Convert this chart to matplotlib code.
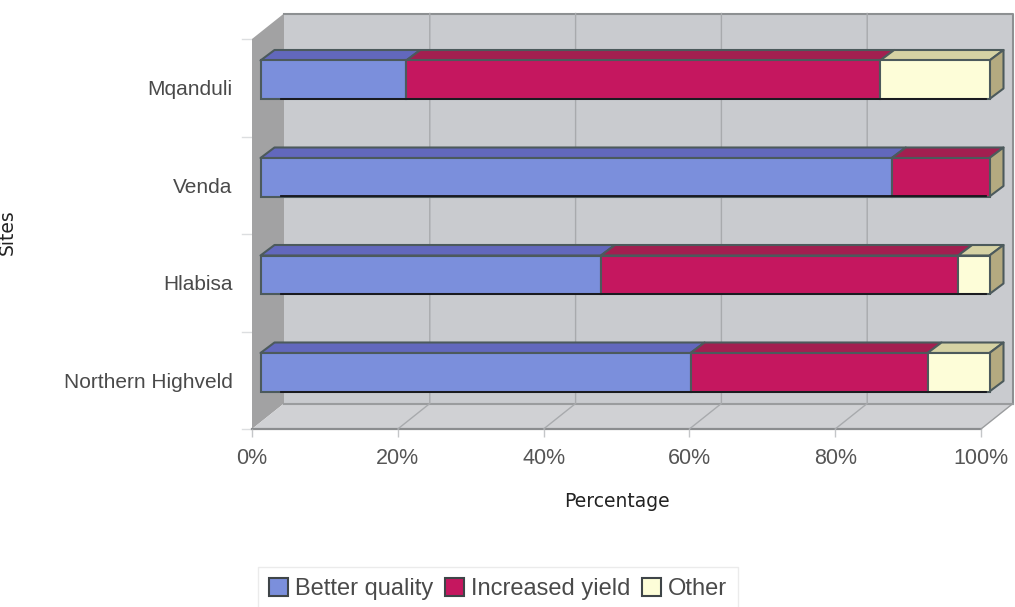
import matplotlib
matplotlib.use("Agg")
import matplotlib.pyplot as plt
from matplotlib.patches import Polygon, Patch

plt.rcParams['font.family'] = ['Liberation Sans', 'DejaVu Sans']

# Survey shares per site, listed bottom to top
sites = ["Northern Highveld", "Hlabisa", "Venda", "Mqanduli"]
better_quality = [59.0, 46.7, 86.6, 20.0]
increased_yield = [32.5, 49.0, 13.4, 65.0]
other = [8.5, 4.3, 0.0, 15.0]
series_names = ["Better quality", "Increased yield", "Other"]
x_ticks = [0, 20, 40, 60, 80, 100]

W, H = 1015, 607
fig = plt.figure(figsize=(W / 100, H / 100), dpi=100, facecolor="white")

# The axes is the front plane of the 3-D box
L, R, T, B = 252, 981, 39, 429
ax = fig.add_axes([L / W, 1 - B / H, (R - L) / W, (B - T) / H])
ax.set_xlim(0, 100)
ax.set_ylim(-0.5, 3.5)
for s in ax.spines.values():
    s.set_visible(False)
ax.patch.set_visible(False)

# Pixel depths expressed in data units
ux = (R - L) / 100
uy = (B - T) / 4
def dx(p): return p / ux
def dy(p): return p / uy

EDGE = "#4c5a5c"
GRID = "#a8aaad"
back_x, back_y = dx(32), dy(25.5)

def poly(points, fc, ec="none", lw=0.0, z=1):
    ax.add_patch(Polygon(points, closed=True, facecolor=fc, edgecolor=ec,
                         linewidth=lw, zorder=z, clip_on=False, joinstyle="round"))

y0, y1 = -0.5, 3.5
# Back wall, side wall and floor
poly([(back_x, y0 + back_y), (100 + back_x, y0 + back_y),
      (100 + back_x, y1 + back_y), (back_x, y1 + back_y)], "#c9cbcf", z=1)
poly([(0, y0), (back_x, y0 + back_y), (back_x, y1 + back_y), (0, y1)], "#a2a2a3", z=1.1)
poly([(0, y0), (100, y0), (100 + back_x, y0 + back_y), (back_x, y0 + back_y)], "#d0d1d4", z=1.1)

# Wall outlines
ax.plot([back_x, 100 + back_x, 100 + back_x], [y1 + back_y, y1 + back_y, y0 + back_y],
        color="#8d9092", lw=1.5, zorder=1.2, clip_on=False)
ax.plot([back_x, 100 + back_x], [y0 + back_y] * 2, color="#9a9c9e", lw=1.5, zorder=1.2, clip_on=False)
ax.plot([0, 100], [y0, y0], color="#8b8d8f", lw=1.6, zorder=1.2, clip_on=False)
ax.plot([100, 100 + back_x], [y0, y0 + back_y], color="#9a9c9e", lw=1.0, zorder=1.2, clip_on=False)

# Gridlines across the floor and up the back wall
for t in x_ticks[1:-1]:
    ax.plot([t, t + back_x, t + back_x], [y0, y0 + back_y, y1 + back_y],
            color=GRID, lw=1.0, zorder=1.3, clip_on=False)

# Stacked bars with their top and end faces
face_x, face_y = dx(8.5), dy(8)
bar_dx, bar_dy = dx(14), dy(10.5)
bar_h = 38.5 / uy
colors = ["#7b8fdc", "#c5175f", "#fdfdd8"]
tops = ["#6268bd", "#a31f50", "#d5d2a4"]
END = "#b4aa80"

for i, site in enumerate(sites):
    yc = i + face_y
    left = face_x
    vals = [better_quality[i], increased_yield[i], other[i]]
    for j, v in enumerate(vals):
        if v <= 0:
            continue
        ax.barh(yc, v, left=left, height=bar_h, color=colors[j], edgecolor=EDGE,
                linewidth=1.5, zorder=3, clip_on=False)
        yt = yc + bar_h / 2
        poly([(left, yt), (left + v, yt), (left + v + bar_dx, yt + bar_dy), (left + bar_dx, yt + bar_dy)],
             tops[j], EDGE, 1.5, z=2.5)
        left += v
    yb = yc - bar_h / 2
    yt = yc + bar_h / 2
    poly([(left, yb), (left + bar_dx, yb + bar_dy), (left + bar_dx, yt + bar_dy), (left, yt)],
         END, EDGE, 1.5, z=2.6)
    ax.plot([face_x + dx(20), left - dx(4)], [yb, yb], color="#15151a", lw=1.3, zorder=3.2, clip_on=False)

# Axes ticks and labels
TXT = "#4a4a4a"
ax.set_xticks(x_ticks)
ax.set_xticklabels([f"{t}%" for t in x_ticks])
ax.set_yticks(range(len(sites)))
ax.set_yticklabels(sites)
ax.tick_params(axis="x", length=6, width=1, color="#c4c6c8", labelsize=15.5, labelcolor="#555555", pad=8)
ax.tick_params(axis="y", length=0, labelsize=15, labelcolor=TXT, pad=14)
for y in [-0.5, 0.5, 1.5, 2.5, 3.5]:
    ax.plot([-dx(10), 0], [y, y], color="#dcdee0", lw=1, zorder=1, clip_on=False)

ax.set_xlabel("Percentage", fontsize=13.5, color="#222222", labelpad=16, family="DejaVu Sans")
ax.set_ylabel("Sites", fontsize=13.5, color="#222222", family="DejaVu Sans")
ax.yaxis.set_label_coords((17 - L) / (R - L), 0.505)

# Legend along the bottom
handles = [Patch(facecolor=c, edgecolor="#3f4548", linewidth=1.5) for c in colors]
leg = fig.legend(handles, series_names, loc="center", bbox_to_anchor=(498 / W, 1 - 589 / H),
                 ncol=3, fontsize=17, frameon=True, fancybox=False, edgecolor="#e6e6e6",
                 labelcolor="#4a4a4a", handlelength=0.8, handleheight=0.8,
                 handletextpad=0.3, columnspacing=0.5, borderpad=0.45, borderaxespad=0)

fig.savefig("out.png", dpi=100)
